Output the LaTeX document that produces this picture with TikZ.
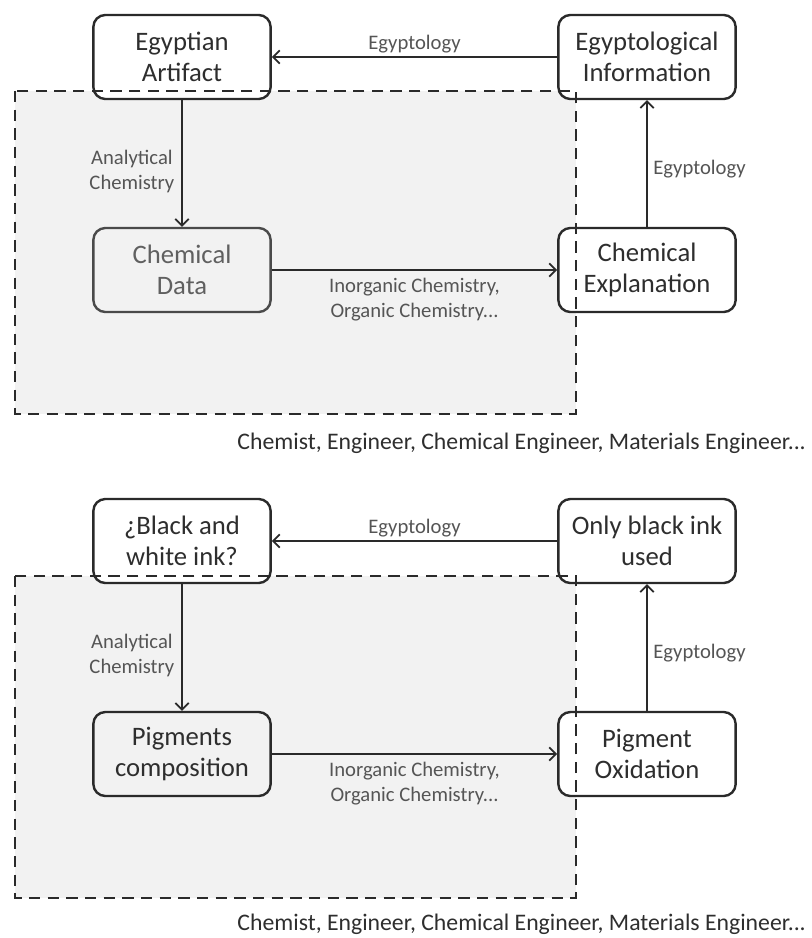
\documentclass[tikz,border=0pt]{standalone}
\usepackage{fontspec}
\setmainfont{Carlito}
\usetikzlibrary{arrows.meta}
\definecolor{boxtext}{HTML}{2E2E2E}
\definecolor{greytext}{HTML}{606060}
\definecolor{lbltext}{HTML}{555555}
\definecolor{zonefill}{HTML}{F2F2F2}
\definecolor{linecol}{HTML}{2A2A2A}
\definecolor{greyline}{HTML}{4A4A4A}
\tikzset{
  px/.style={x=0.75pt,y=-0.75pt},
  stage/.style={draw=linecol,fill=white,line width=1.8pt,rounded corners=9pt,
    minimum width=133pt,minimum height=63pt,align=center,
    font=\fontsize{20}{23.5}\selectfont,text=boxtext,inner sep=2pt},
  inner/.style={fill=none},
  conn/.style={draw=linecol,line width=1.5pt,-{Straight Barb[length=5pt,width=10pt,line width=1.3pt]}},
  lbl/.style={font=\fontsize{15.5}{18.75}\selectfont,text=lbltext,align=center,inner sep=1pt},
  who/.style={font=\fontsize{17.8}{20}\selectfont,text=boxtext,inner sep=0pt},
  zone/.style={draw=linecol,line width=1.8pt,dash pattern=on 8.5pt off 5.5pt},
}
\begin{document}
\begin{tikzpicture}[px]
\useasboundingbox (0,0) rectangle (812,938);
\fill[white] (0,0) rectangle (812,938);
% ---------- top panel ----------
\fill[zonefill] (15,91) rectangle (576,414);
\node[stage] (art) at (182,57) {Egyptian\\Artifact};
\node[stage] (info) at (647,57) {Egyptological\\Information};
\node[stage,inner,draw=greyline,text=greytext] (data) at (182,270) {Chemical\\Data};
\node[stage] (expl) at (647,270) {Chemical\\Explanation};
\draw[conn] (info.west) -- node[lbl,above=1pt] {Egyptology} (art.east);
\draw[conn] (art.south) -- node[lbl,left=4pt,yshift=-6pt] {Analytical\\Chemistry} (data.north);
\draw[conn] (data.east) -- node[lbl,below=3pt,yshift=-1pt] {Inorganic Chemistry,\\Organic Chemistry...} (expl.west);
\draw[conn] (expl.north) -- node[lbl,right=3pt,yshift=-4pt] {Egyptology} (info.south);
\draw[zone] (15,91) rectangle (576,414);
\node[who,anchor=base east] (whoA) at (806,449) {Chemist, Engineer, Chemical Engineer, Materials Engineer...};
% ---------- bottom panel ----------
\fill[zonefill] (15,576) rectangle (576,898);
\node[stage] (ink) at (182,541) {¿Black and\\white ink?};
\node[stage] (only) at (647,541) {Only black ink\\used};
\node[stage,inner] (pig) at (182,754) {Pigments\\composition};
\node[stage] (oxi) at (647,754) {Pigment\\Oxidation};
\draw[conn] (only.west) -- node[lbl,above=1pt] {Egyptology} (ink.east);
\draw[conn] (ink.south) -- node[lbl,left=4pt,yshift=-6pt] {Analytical\\Chemistry} (pig.north);
\draw[conn] (pig.east) -- node[lbl,below=3pt,yshift=-1pt] {Inorganic Chemistry,\\Organic Chemistry...} (oxi.west);
\draw[conn] (oxi.north) -- node[lbl,right=3pt,yshift=-4pt] {Egyptology} (only.south);
\draw[zone] (15,576) rectangle (576,898);
\node[who,anchor=base east] (whoB) at (806,930) {Chemist, Engineer, Chemical Engineer, Materials Engineer...};
\end{tikzpicture}
\end{document}
